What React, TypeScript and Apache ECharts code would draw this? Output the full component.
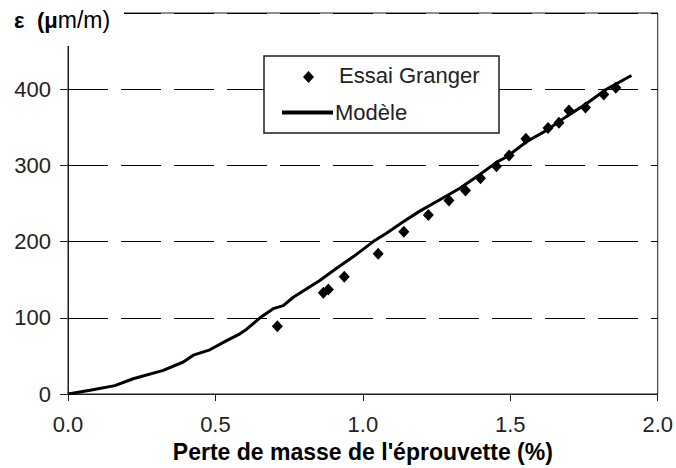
import React, { useEffect, useRef } from "react";
import * as echarts from "echarts";

// Model curve (Modèle)
const modelX = [0, 0.075, 0.159, 0.221, 0.323, 0.391, 0.425, 0.481, 0.538, 0.583, 0.606, 0.651, 0.696, 0.73, 0.764, 0.854, 0.911, 0.967, 1.035, 1.08, 1.137, 1.193, 1.261, 1.329, 1.397, 1.453, 1.487, 1.555, 1.623, 1.69, 1.758, 1.826, 1.911];
const modelY = [0, 5, 11, 20, 31, 42, 51, 58, 70, 79, 85, 100, 112, 116, 127, 149, 165, 180, 200, 211, 226, 240, 255, 270, 288, 304, 311, 331, 346, 364, 381, 400, 418];

// Test points (Essai Granger)
const essaiX = [0.71, 0.866, 0.883, 0.937, 1.052, 1.139, 1.222, 1.292, 1.348, 1.399, 1.453, 1.496, 1.553, 1.628, 1.665, 1.699, 1.755, 1.817, 1.858];
const essaiY = [89, 133, 137, 154, 184, 213, 235, 254, 267, 283, 299, 313, 335, 349, 356, 372, 376, 393, 402];

const xTicks = [0, 0.5, 1.0, 1.5, 2.0];
const yTicks = [0, 100, 200, 300, 400, 500];

const xTitle = "Perte de masse de l'éprouvette (%)";
const yTitleEps = "ε";
const yTitleMu = "(μ";
const yTitleRest = "m/m)";
const legendEssai = "Essai Granger";
const legendModele = "Modèle";

const FONT = '"Liberation Sans", Arial, Helvetica, sans-serif';
const INK = "#1e1e1e";

export default function App() {
  const ref = useRef<HTMLDivElement>(null);
  useEffect(() => {
    if (!ref.current) return;
    const chart = echarts.init(ref.current, undefined, { renderer: "svg" });
    const option: any = {
      animation: false,
      backgroundColor: "#ffffff",
      textStyle: { fontFamily: FONT },
      grid: {
        left: 68,
        right: 18,
        top: 13,
        bottom: 73,
        show: true,
        borderColor: INK,
        borderWidth: 1,
        backgroundColor: "transparent",
      },
      xAxis: {
        type: "value",
        min: xTicks[0],
        max: xTicks[xTicks.length - 1],
        interval: 0.5,
        name: xTitle,
        nameLocation: "middle",
        nameGap: 46,
        nameTextStyle: { fontFamily: FONT, fontSize: 23, fontWeight: "bold", color: "#000" },
        axisLine: { show: true, onZero: false, lineStyle: { color: INK, width: 1 } },
        axisTick: { show: true, inside: false, length: 7, lineStyle: { color: INK } },
        axisLabel: {
          fontFamily: FONT,
          fontSize: 22,
          color: "#222",
          margin: 19,
          formatter: (v: number) => v.toFixed(1),
        },
        splitLine: { show: false },
      },
      yAxis: {
        type: "value",
        min: yTicks[0],
        max: yTicks[yTicks.length - 1],
        interval: 100,
        axisLine: { show: true, onZero: false, lineStyle: { color: INK, width: 1 } },
        axisTick: { show: true, inside: false, length: 8, lineStyle: { color: INK } },
        axisLabel: {
          fontFamily: FONT,
          fontSize: 22,
          color: "#222",
          margin: 17,
          formatter: (v: number) => (v === yTicks[yTicks.length - 1] ? "" : String(v)),
        },
        splitLine: { show: true, lineStyle: { color: "#000", width: 1, type: [40, 13] } },
      },
      series: [
        {
          name: legendModele,
          type: "line",
          data: modelX.map((x, i) => [x, modelY[i]]),
          showSymbol: false,
          symbol: "none",
          smooth: false,
          lineStyle: { color: "#000", width: 3 },
          z: 3,
        },
        {
          name: legendEssai,
          type: "scatter",
          data: essaiX.map((x, i) => [x, essaiY[i]]),
          symbol: "diamond",
          symbolSize: [11, 12],
          itemStyle: { color: "#000", opacity: 1 },
          z: 4,
        },
      ],
      graphic: [
        {
          type: "rect",
          z: 100,
          shape: { x: 0, y: 0, width: 124, height: 46 },
          style: { fill: "#ffffff" },
        },
        {
          type: "text",
          z: 101,
          x: 14,
          y: 20,
          style: {
            text: "{e|" + yTitleEps + "}{b|" + yTitleMu + "}{n|" + yTitleRest + "}",
            verticalAlign: "middle",
            rich: {
              e: { fontFamily: FONT, fontSize: 22, fontWeight: "bold", fill: "#000", width: 23 },
              b: { fontFamily: FONT, fontSize: 22, fontWeight: "bold", fill: "#000" },
              n: { fontFamily: FONT, fontSize: 23, fontWeight: "normal", fill: "#000" },
            },
          },
        },
        {
          type: "rect",
          z: 100,
          shape: { x: 264, y: 56, width: 235, height: 77 },
          style: { fill: "#ffffff", stroke: INK, lineWidth: 1.5 },
        },
        {
          type: "polygon",
          z: 101,
          shape: { points: [[308.5, 71], [314, 77], [308.5, 83], [303, 77]] },
          style: { fill: "#000" },
        },
        {
          type: "text",
          z: 101,
          x: 339,
          y: 75,
          style: { text: legendEssai, fontFamily: FONT, fontSize: 22, fill: "#222", verticalAlign: "middle" },
        },
        {
          type: "line",
          z: 101,
          shape: { x1: 282, y1: 112.5, x2: 333, y2: 112.5 },
          style: { stroke: "#000", lineWidth: 4 },
        },
        {
          type: "text",
          z: 101,
          x: 335,
          y: 112,
          style: { text: legendModele, fontFamily: FONT, fontSize: 22, fill: "#222", verticalAlign: "middle" },
        },
      ],
    };
    chart.setOption(option);
    return () => chart.dispose();
  }, []);
  return (
    <div
      ref={ref}
      style={{ position: "absolute", left: 0, top: 0, width: 676, height: 468, background: "#fff" }}
    />
  );
}
